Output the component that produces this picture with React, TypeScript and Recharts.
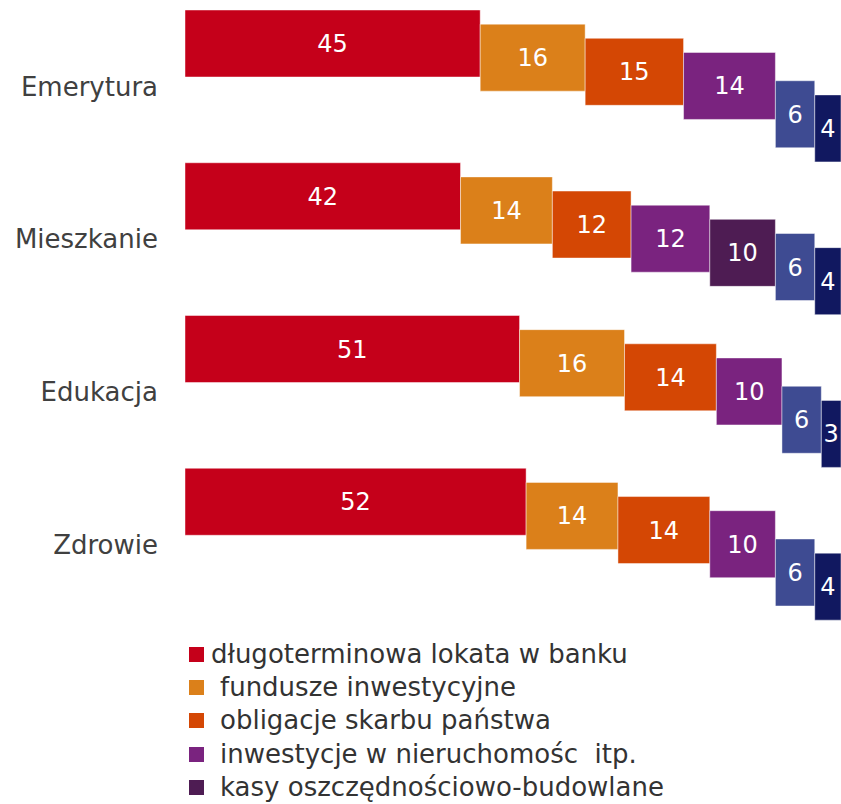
import { BarChart, Bar, XAxis, YAxis, LabelList } from 'recharts'

const categories = ['Emerytura', 'Mieszkanie', 'Edukacja', 'Zdrowie']

const lokata = [45, 42, 51, 52]
const fundusze = [16, 14, 16, 14]
const obligacje = [15, 12, 14, 14]
const nieruchomosci = [14, 12, 10, 10]
const kasy = [0, 10, 0, 0]
const seria6 = [6, 6, 6, 6]
const seria7 = [4, 4, 3, 4]

const FONT = '"DejaVu Sans", Verdana, sans-serif'

// the last two series have no visible legend entry in the reference
const series = [
    { name: 'długoterminowa lokata w banku', color: '#C5001A', values: lokata },
    { name: 'fundusze inwestycyjne', color: '#DB801A', values: fundusze },
    { name: 'obligacje skarbu państwa', color: '#D44704', values: obligacje },
    { name: 'inwestycje w nieruchomośc  itp.', color: '#7A237F', values: nieruchomosci },
    { name: 'kasy oszczędnościowo-budowlane', color: '#4E1C53', values: kasy },
    { name: '', color: '#3E4B92', values: seria6 },
    { name: '', color: '#111860', values: seria7 },
]

// each segment starts where the previous one ended
const data = categories.map((category, i) => {
    const row: Record<string, unknown> = { category }
    let start = 0
    series.forEach((s, j) => {
        const v = s.values[i]
        row['v' + j] = v
        row['r' + j] = [start, start + v]
        start += v
    })
    return row
})

const App = () => {
    return (
        <div style={{ position: 'absolute', left: 0, top: 0, width: 841, height: 804, overflow: 'hidden', background: '#fff', fontFamily: FONT }}>
            <BarChart
                width={841}
                height={621}
                data={data}
                layout="vertical"
                margin={{ top: 10, right: 0, bottom: 0, left: 0 }}
                barSize={67}
                barGap={-52.85}
                barCategoryGap={0}
            >
                <XAxis type="number" domain={[0, 100]} hide />
                <YAxis
                    type="category"
                    dataKey="category"
                    width={185}
                    axisLine={false}
                    tickLine={false}
                    tickSize={0}
                    tickMargin={27}
                    tick={{ fill: '#404040', fontSize: 26, fontFamily: FONT }}
                />
                {series.map((s, j) => (
                    <Bar
                        key={j}
                        dataKey={'r' + j}
                        name={s.name}
                        fill={s.color}
                        stroke="#ffffff"
                        strokeOpacity={0.45}
                        strokeWidth={1}
                        isAnimationActive={false}
                    >
                        <LabelList
                            dataKey={'v' + j}
                            position="center"
                            fill="#ffffff"
                            fontSize={24}
                            fontFamily={FONT}
                            formatter={(v: any) => (v ? v : '')}
                        />
                    </Bar>
                ))}
            </BarChart>

            <div style={{ position: 'absolute', left: 189, top: 637.5 }}>
                {series.filter(s => s.name).map((s, i) => (
                    <div key={i} style={{ display: 'flex', alignItems: 'center', height: 33.4 }}>
                        <span style={{ display: 'inline-block', width: 15, height: 15, background: s.color }} />
                        <span style={{ marginLeft: i === 0 ? 7 : 16, fontSize: 26, lineHeight: '33.4px', color: '#333', whiteSpace: 'pre' }}>
                            {s.name}
                        </span>
                    </div>
                ))}
            </div>
        </div>
    )
}

export default App
